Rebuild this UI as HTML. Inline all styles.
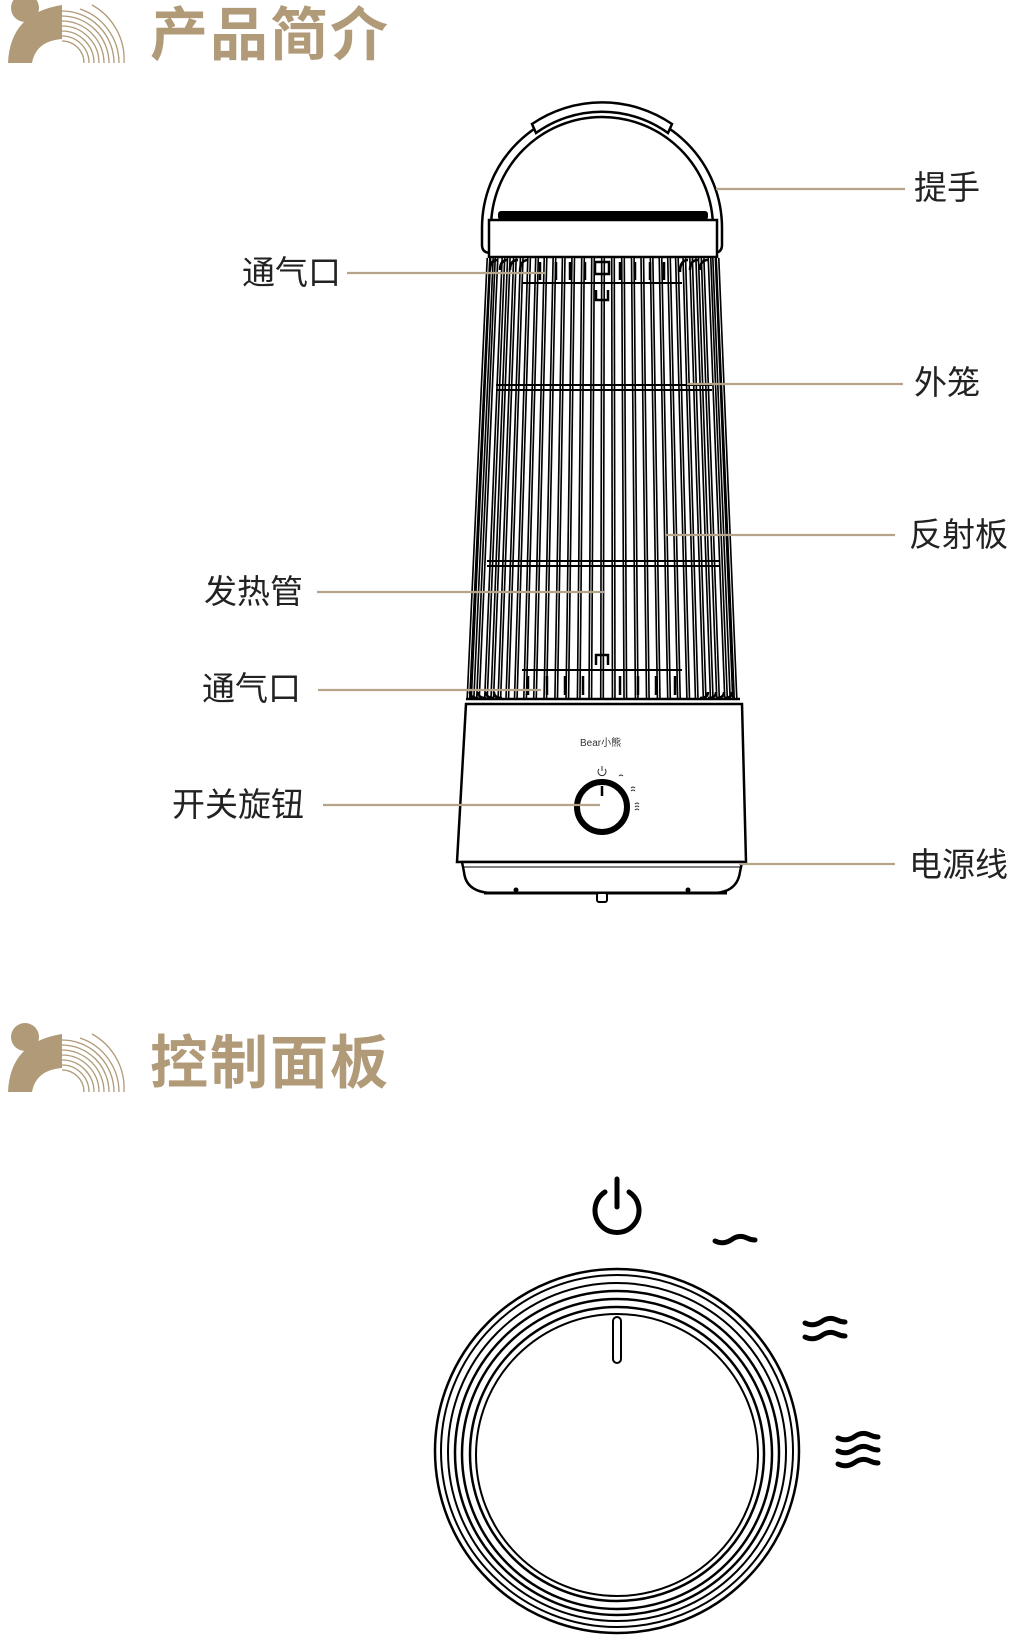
<!DOCTYPE html>
<html><head><meta charset="utf-8"><style>
html,body{margin:0;padding:0;background:#fff;}
svg{display:block}
text{font-family:"Liberation Sans","Noto Sans CJK SC",sans-serif;}
</style></head><body>
<svg width="1012" height="1636" viewBox="0 0 1012 1636" xmlns="http://www.w3.org/2000/svg">
<defs>
<g id="logo">
  <circle cx="25" cy="9" r="14" fill="#b09a78"/>
  <path d="M8,64 Q10,14 62,6 L62,40 Q36,42 32,64 Z" fill="#b09a78"/>
  <g fill="none" stroke="#b09a78" stroke-width="1.3">
    <path d="M62,42 A22,22 0 0 1 84,64"/>
    <path d="M62,37 A27,27 0 0 1 89,64"/>
    <path d="M62,32 A32,32 0 0 1 94,64"/>
    <path d="M62,27 A37,37 0 0 1 99,64"/>
    <path d="M62,22 A42,42 0 0 1 104,64"/>
    <path d="M62,17 A47,47 0 0 1 109,64"/>
    <path d="M62,12 A52,52 0 0 1 114,64"/>
    <path d="M80,10 A57,57 0 0 1 119,64"/>
    <path d="M92,6 A62,62 0 0 1 124,64"/>
  </g>
</g>
<g id="rods">
<line x1="488.5" y1="258" x2="468.5" y2="698"/><line x1="717.5" y1="258" x2="735.5" y2="698"/>
<line x1="491.9" y1="258" x2="472.6" y2="698"/><line x1="714.1" y1="258" x2="731.4" y2="698"/>
<line x1="496.5" y1="258" x2="478" y2="698"/><line x1="709.5" y1="258" x2="726" y2="698"/>
<line x1="503.4" y1="258" x2="486" y2="698"/><line x1="702.6" y1="258" x2="718" y2="698"/>
<line x1="508.8" y1="258" x2="492.3" y2="698"/><line x1="697.2" y1="258" x2="711.7" y2="698"/>
<line x1="514.9" y1="258" x2="499.4" y2="698"/><line x1="691.1" y1="258" x2="704.6" y2="698"/>
<line x1="521.7" y1="258" x2="507.3" y2="698"/><line x1="684.3" y1="258" x2="696.7" y2="698"/>
<line x1="529.1" y1="258" x2="515.8" y2="698"/><line x1="676.9" y1="258" x2="688.2" y2="698"/>
<line x1="537" y1="258" x2="525.1" y2="698"/><line x1="669" y1="258" x2="678.9" y2="698"/>
<line x1="545.5" y1="258" x2="535" y2="698"/><line x1="660.5" y1="258" x2="669" y2="698"/>
<line x1="554.4" y1="258" x2="545.3" y2="698"/><line x1="651.6" y1="258" x2="658.7" y2="698"/>
<line x1="563.7" y1="258" x2="556.2" y2="698"/><line x1="642.3" y1="258" x2="647.8" y2="698"/>
<line x1="573.2" y1="258" x2="567.3" y2="698"/><line x1="632.8" y1="258" x2="636.7" y2="698"/>
<line x1="583" y1="258" x2="578.7" y2="698"/><line x1="623" y1="258" x2="625.3" y2="698"/>
<line x1="593" y1="258" x2="590.3" y2="698"/><line x1="613" y1="258" x2="613.7" y2="698"/>
<line x1="603" y1="258" x2="602" y2="698"/>
</g>
</defs>
<use href="#logo" x="0" y="-1"/>
<text x="150" y="55" font-size="58" font-weight="bold" fill="#b09a78" letter-spacing="2">产品简介</text>
<use href="#logo" x="0" y="1028"/>
<text x="150" y="1083" font-size="58" font-weight="bold" fill="#b09a78" letter-spacing="2">控制面板</text>

<g fill="none" stroke="#000" stroke-width="2.5">
  <path d="M482,245 L482,228 A120,120 0 0 1 722,228 L722,245"/>
  <path d="M491,245 L491,228 A111,111 0 0 1 713,228 L713,245"/>
  <path d="M532,124 A124,124 0 0 1 672,124 L668,133 A113,113 0 0 0 536,133 Z" fill="#fff"/>
  <path d="M482,245 Q482,253 491,253 M722,245 Q722,253 713,253"/>
</g>
<rect x="498" y="211" width="210" height="9" rx="3" fill="#000"/>
<rect x="489" y="220" width="228" height="37" fill="#fff" stroke="#000" stroke-width="2.5"/>

<use href="#rods" stroke="#000" stroke-width="4.2"/>
<use href="#rods" stroke="#fff" stroke-width="0.9"/>
<g stroke="#000" stroke-width="2" fill="none">
<line x1="496" y1="385" x2="712" y2="385"/><line x1="496" y1="390" x2="712" y2="390"/>
<line x1="487" y1="561" x2="720" y2="561"/><line x1="487" y1="566" x2="720" y2="566"/>
<line x1="522" y1="670" x2="682" y2="670"/>
<line x1="522" y1="283" x2="682" y2="283"/>
</g>
<g stroke="#000" stroke-width="2.5" fill="none">
<path d="M490,270 Q490,260 498,260 M500,270 Q500,260 508,260 M510,270 Q510,260 518,260 M520,272 Q520,260 528,260 M690,270 Q690,260 698,260 M700,270 Q700,260 708,260 M680,272 Q680,260 688,260"/>
<path d="M540,262 L540,280 M556,262 L556,280 M570,262 L570,280 M585,262 L585,280 M620,262 L620,280 M635,262 L635,280 M650,262 L650,280 M664,262 L664,280"/>
<rect x="595" y="262" width="14" height="12"/>
<path d="M596,290 L596,300 L608,300 L608,290"/>
</g>
<g stroke="#000" stroke-width="2.5" fill="none">
<path d="M470,692 Q470,698 478,698 M478,692 Q478,698 486,698 M486,692 Q486,698 494,698 M494,692 Q494,698 502,698 M708,692 Q708,698 700,698 M716,692 Q716,698 708,698 M724,692 Q724,698 716,698 M732,692 Q732,698 724,698"/>
<path d="M528,676 L528,695 M547,676 L547,695 M565,676 L565,695 M583,676 L583,695 M620,676 L620,695 M638,676 L638,695 M656,676 L656,695 M675,676 L675,695"/>
<path d="M596,665 L596,655 L608,655 L608,665"/>
</g>
<line x1="466" y1="699" x2="740" y2="699" stroke="#000" stroke-width="2.5"/>

<path d="M466,704 L742,704 L746,862 L457,862 Z" fill="#fff" stroke="#000" stroke-width="2.5"/>
<path d="M462,862 L742,862 L740,872 Q737,893 712,893 L494,893 Q466,893 464,872 Z" fill="#fff" stroke="#000" stroke-width="2.5"/>
<line x1="463" y1="867" x2="741" y2="867" stroke="#000" stroke-width="1"/>
<line x1="484" y1="893" x2="727" y2="893" stroke="#000" stroke-width="3"/>
<rect x="597" y="893" width="10" height="9" rx="2" fill="#fff" stroke="#000" stroke-width="2"/>
<circle cx="516" cy="890" r="2.5" fill="#000"/><circle cx="688" cy="890" r="2.5" fill="#000"/>
<text x="580" y="746" font-size="10" fill="#333">Bear小熊</text>
<circle cx="602" cy="807" r="25" fill="none" stroke="#000" stroke-width="6"/>
<line x1="602" y1="786" x2="602" y2="796" stroke="#000" stroke-width="2.5"/>
<g stroke="#333" stroke-width="1" fill="none">
<path d="M599,769 A4,4 0 1 0 605,769 M602,766 L602,771"/>
<path d="M619,776 q2,-2 4,0"/>
<path d="M631,788 q2,-2 4,0 M631,791 q2,-2 4,0"/>
<path d="M635,804 q2,-2 4,0 M635,807 q2,-2 4,0 M635,810 q2,-2 4,0"/>
</g>

<g stroke="#b5a48a" stroke-width="2.2">
<line x1="716" y1="189" x2="905" y2="189"/>
<line x1="347" y1="273" x2="545" y2="273"/>
<line x1="687" y1="384" x2="903" y2="384"/>
<line x1="666" y1="535" x2="895" y2="535"/>
<line x1="317" y1="592" x2="604" y2="592"/>
<line x1="318" y1="690" x2="541" y2="690"/>
<line x1="323" y1="805" x2="600" y2="805"/>
<line x1="739" y1="864" x2="895" y2="864"/>
</g>
<g font-size="33" fill="#222">
<text x="914" y="199">提手</text>
<text x="242" y="284">通气口</text>
<text x="914" y="394">外笼</text>
<text x="909" y="546">反射板</text>
<text x="204" y="603">发热管</text>
<text x="202" y="700">通气口</text>
<text x="172" y="816">开关旋钮</text>
<text x="909" y="876">电源线</text>
</g>

<g fill="none" stroke="#000">
<circle cx="617" cy="1451" r="182" stroke-width="2.5"/>
<circle cx="617" cy="1451" r="176" stroke-width="2"/>
<circle cx="617" cy="1452" r="169" stroke-width="2"/>
<circle cx="617" cy="1453" r="162" stroke-width="2.5"/>
<circle cx="617" cy="1454" r="155" stroke-width="2.5"/>
<circle cx="617" cy="1454" r="147" stroke-width="2.5"/>
<circle cx="617" cy="1455" r="141" stroke-width="2"/>
<rect x="613" y="1317" width="8" height="46" rx="4" stroke-width="2"/>
<path d="M605,1192 A22,22 0 1 0 629,1192" stroke-width="5" stroke-linecap="round"/>
<line x1="617" y1="1179" x2="617" y2="1207" stroke-width="5" stroke-linecap="round"/>
<g stroke-width="5" stroke-linecap="round">
<path d="M715,1241 q8,4 16,-1 q8,-6 16,-2 q4,2 8,2"/>
<path d="M805,1323 q8,4 16,-1 q8,-6 16,-2 q4,2 8,2"/>
<path d="M805,1337 q8,4 16,-1 q8,-6 16,-2 q4,2 8,2"/>
<path d="M838,1438 q8,4 16,-1 q8,-6 16,-2 q4,2 8,2"/>
<path d="M838,1451 q8,4 16,-1 q8,-6 16,-2 q4,2 8,2"/>
<path d="M838,1464 q8,4 16,-1 q8,-6 16,-2 q4,2 8,2"/>
</g>
</g>
</svg>
</body></html>
